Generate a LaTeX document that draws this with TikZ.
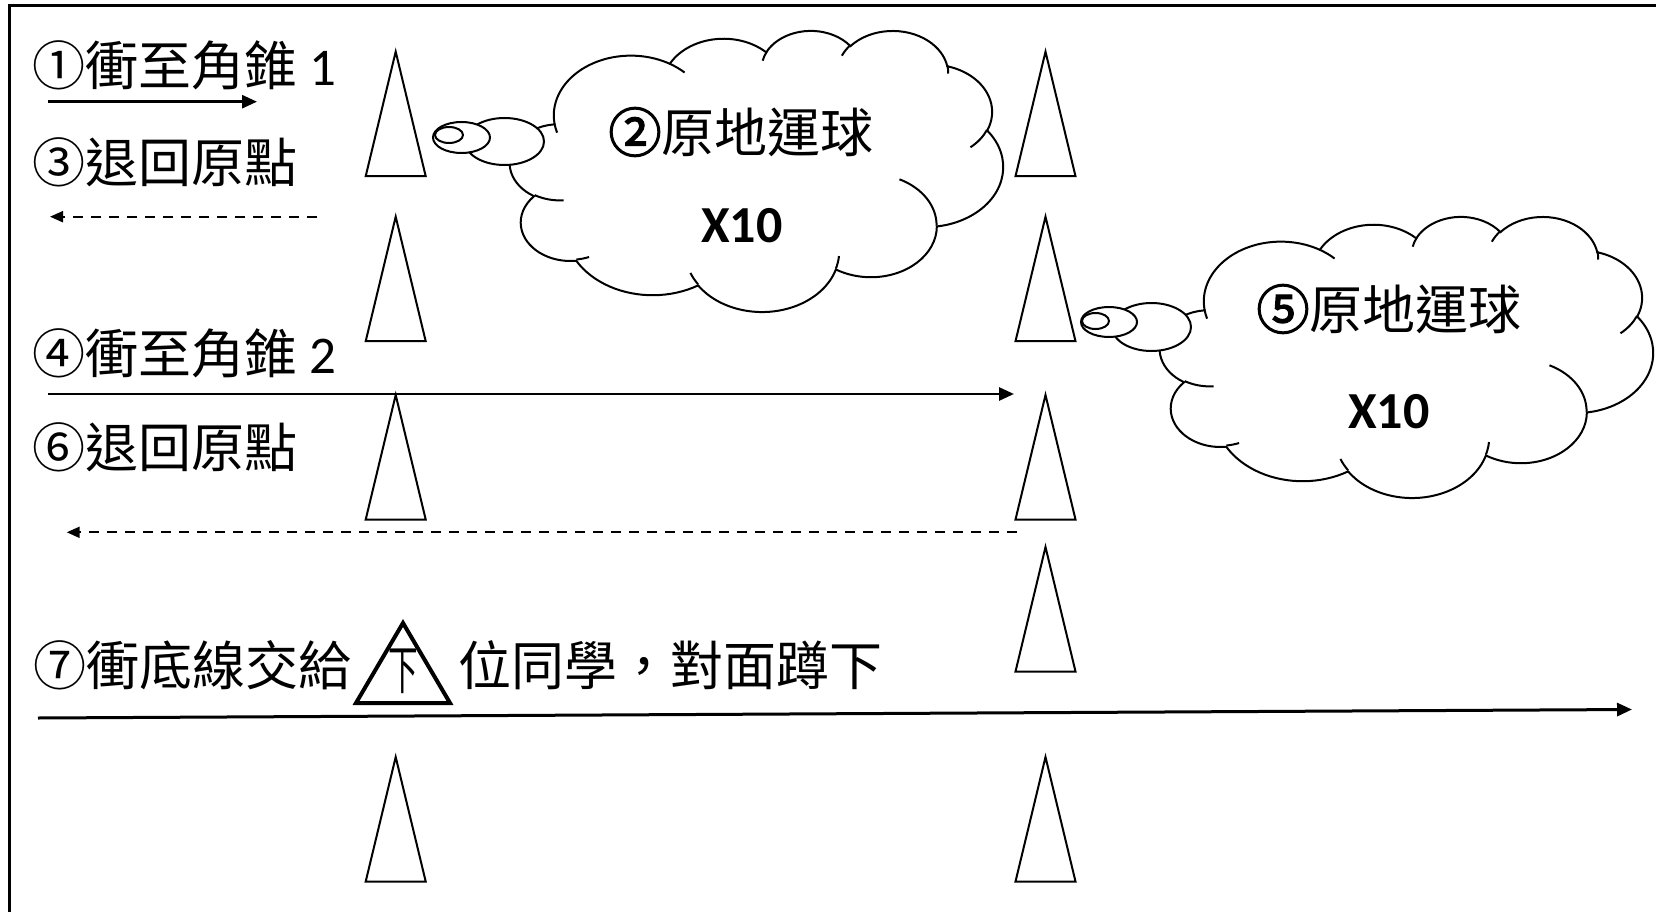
\documentclass[tikz,border=0pt]{standalone}
\usepackage{fontspec}
\usepackage{graphicx}
\setmainfont{Carlito}
\newfontfamily\cjk{Noto Sans CJK TC}
\newfontfamily\cjkfb{Noto Sans CJK TC}[FakeBold=2.5]
\usetikzlibrary{arrows.meta}
\begin{document}
\begin{tikzpicture}[x=1pt,y=-1pt]
\tikzset{
 edgeline/.style={line width=2.7pt},
 cone/.style={draw, line width=2pt, line join=miter},
 bigcone/.style={draw, line width=4pt, line join=miter},
 cloudline/.style={line width=2pt},
 bubble/.style={draw, fill=white, line width=2pt},
 rowtext/.style={anchor=west, inner sep=0pt, font=\fontsize{53}{53}\selectfont},
 cloudtext/.style={inner sep=0pt, font=\fontsize{53}{53}\selectfont},
 numtext/.style={inner sep=0pt, font=\fontsize{52}{52}\selectfont\bfseries},
 solidarrow/.style={line width=2.7pt, -{Triangle[length=15pt,width=13pt]}},
 dasharrow/.style={line width=2pt, dash pattern=on 10pt off 8pt, -{Triangle[length=13pt,width=11pt]}},
}
\useasboundingbox (0,0) rectangle (1656,912);

% border (left and top)
\draw[edgeline] (9.3,912) -- (9.3,5.3) -- (1656,5.3);

% cones
\foreach \cx/\ty in {395.7/51.7, 395.7/216.7, 395.7/395, 395.7/757, 1045.5/51.7, 1045.5/216.7, 1045.5/395, 1045.5/547, 1045.5/757}
  \draw[cone] (\cx-30,\ty+124.5) -- (\cx,\ty) -- (\cx+30,\ty+124.5) -- cycle;

% clouds
\foreach \X/\Y in {510/30, 1160/216} {
 \begin{scope}[shift={(\X,\Y)}, xscale=1.1412, yscale=0.6505]
  \filldraw[cloudline, fill=white] (39.00,143.70)
   arc[start angle=172.25, end angle=300.36, x radius=67.53, y radius=91.90]
   arc[start angle=-152.02, end angle=-45.46, x radius=53.33, y radius=72.67]
   arc[start angle=-153.49, end angle=-37.32, x radius=43.65, y radius=59.45]
   arc[start angle=-139.72, end angle=-10.21, x radius=48.57, y radius=65.95]
   arc[start angle=-74.77, end angle=23.21, x radius=53.33, y radius=72.73]
   arc[start angle=-37.53, end angle=81.86, x radius=67.75, y radius=92.20]
   arc[start angle=0.46, end angle=121.98, x radius=57.85, y radius=78.67]
   arc[start angle=16.84, end angle=146.22, x radius=67.52, y radius=92.15]
   arc[start angle=58.98, end angle=150.19, x radius=77.20, y radius=105.43]
   arc[start angle=83.31, end angle=223.10, x radius=43.60, y radius=59.18]
   arc[start angle=120.36, end angle=264.11, x radius=43.45, y radius=59.45]
   -- cycle;
  \draw[cloudline]
   (46.93,261.77) arc[start angle=85.55, end angle=120.36, x radius=43.45, y radius=59.45]
   (69.28,348.99) arc[start angle=68.23, end angle=83.31, x radius=43.60, y radius=59.18]
   (164.78,390.90) arc[start angle=146.22, end angle=158.47, x radius=67.52, y radius=92.15]
   (288.27,347.51) arc[start angle=4.74, end angle=16.84, x radius=67.52, y radius=92.15]
   (341.29,229.54) arc[start angle=-64.03, end angle=0.46, x radius=57.85, y radius=78.67]
   (417.98,153.54) arc[start angle=23.21, end angle=49.65, x radius=53.33, y radius=72.73]
   (383.24,54.26) arc[start angle=-10.21, end angle=0.82, x radius=48.57, y radius=65.95]
   (290.78,39.52) arc[start angle=-156.28, end angle=-139.72, x radius=48.57, y radius=65.95]
   (221.41,47.20) arc[start angle=-167.73, end angle=-153.49, x radius=43.65, y radius=59.45]
   (140.00,51.92) arc[start angle=-59.64, end angle=-45.74, x radius=67.53, y radius=91.90]
   (41.27,157.89) arc[start angle=163.19, end angle=172.25, x radius=67.53, y radius=91.90];
 \end{scope}
}

% thought bubbles
\path[bubble] (504.5,141.5) ellipse[x radius=39.5, y radius=23.5];
\path[bubble] (461.5,137.5) ellipse[x radius=28.5, y radius=15.5];
\path[bubble] (449,135) ellipse[x radius=14, y radius=8];
\path[bubble] (1151.5,327) ellipse[x radius=39.5, y radius=24];
\path[bubble] (1109,322) ellipse[x radius=28, y radius=15];
\path[bubble] (1095.5,321) ellipse[x radius=13.5, y radius=8];

% row 7 triangle
\draw[bigcone] (356,703) -- (403,623) -- (450,703) -- cycle;
\node[inner sep=0pt, font=\fontsize{53}{53}\selectfont] (xia) at (403,671) {\cjk\scalebox{0.56}[1]{下}};

% texts
\node[rowtext] (t1) at (32,65) {{\cjk ①衝至角錐} 1};
\node[rowtext] (t3) at (32,162) {\cjk ③退回原點};
\node[rowtext] (t4) at (32,353) {{\cjk ④衝至角錐} 2};
\node[rowtext] (t6) at (32,447) {\cjk ⑥退回原點};
\node[rowtext] (t7a) at (33,665) {\cjk ⑦衝底線交給};
\node[rowtext] (t7b) at (458,665) {\cjk 位同學，對面蹲下};
\node[cloudtext] (c1a) at (741,132) {{\cjkfb ②}{\cjk 原地運球}};
\node[numtext] (c1b) at (742,226) {X10};
\node[cloudtext] (c2a) at (1389,309) {{\cjkfb ⑤}{\cjk 原地運球}};
\node[numtext] (c2b) at (1389,412) {X10};

% arrows
\coordinate (a1s) at (48,101.7); \coordinate (a1e) at (257,101.7);
\coordinate (a3s) at (317,216.7); \coordinate (a3e) at (50,216.7);
\coordinate (a4s) at (48,394); \coordinate (a4e) at (1014,394);
\coordinate (a6s) at (1017,532.3); \coordinate (a6e) at (66.7,532.3);
\coordinate (a7s) at (38,718); \coordinate (a7e) at (1632,709.5);
\draw[solidarrow] (a1s) -- (a1e);
\draw[dasharrow] (a3s) -- (a3e);
\draw[solidarrow] (a4s) -- (a4e);
\draw[dasharrow] (a6s) -- (a6e);
\draw[solidarrow, line width=3pt] (a7s) -- (a7e);
\end{tikzpicture}
\end{document}
